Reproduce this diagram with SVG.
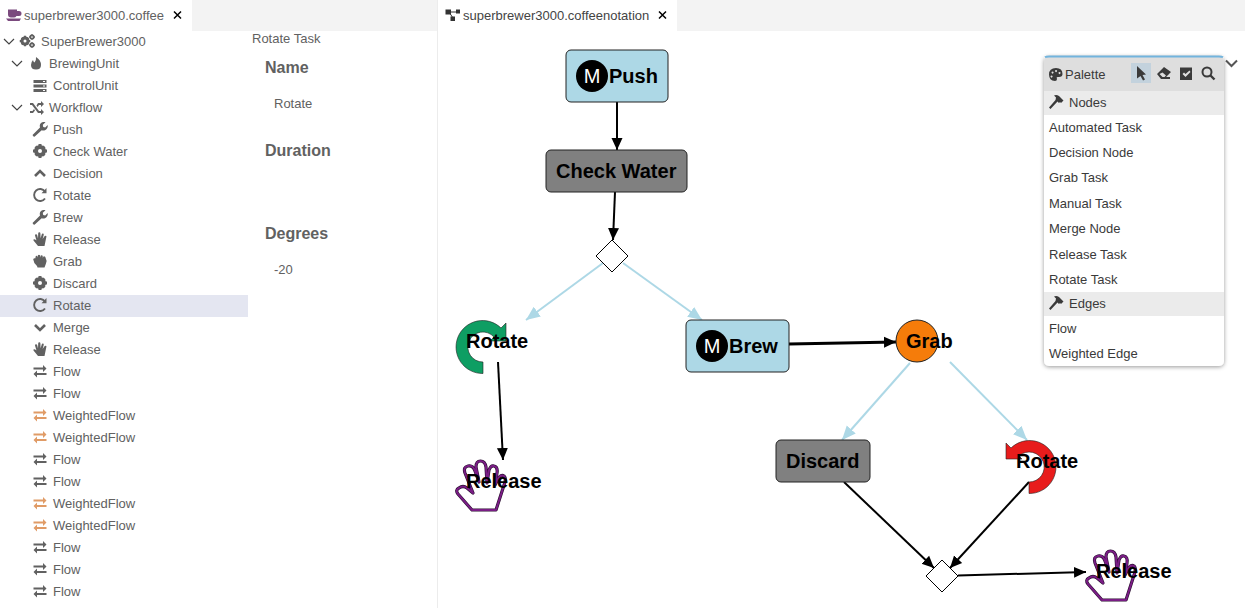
<svg xmlns="http://www.w3.org/2000/svg" xmlns:xlink="http://www.w3.org/1999/xlink" width="1245" height="608" viewBox="0 0 1245 608">
<style>
text{font-family:"Liberation Sans",Arial,sans-serif}
.t{font-size:13px;fill:#616161}
.h{font-size:16px;font-weight:bold;fill:#616161}
.p{font-size:13px;fill:#3a3a3a}
.n{font-size:20px;font-weight:bold;fill:#000}
.m{font-size:20px;fill:#fff;text-anchor:middle}
.box{stroke:#222;stroke-width:1}
.c{fill:none;stroke:#000;stroke-width:2;marker-end:url(#ak)}
.b{fill:none;stroke:#add8e6;stroke-width:2;marker-end:url(#ab)}
.i{fill:#616161}
.s{fill:none;stroke:#444;stroke-width:1.2}
.hand0{fill:#fff;stroke:#2a1030;stroke-width:3.2;stroke-linejoin:round}
.hand{fill:none;stroke:#7a1d85;stroke-width:2;stroke-linejoin:round}
.dia{fill:#fff;stroke:#000;stroke-width:1}
.pi{fill:#3a3a3a}
</style>
<defs>
<marker id="ak" markerUnits="userSpaceOnUse" markerWidth="13" markerHeight="13" refX="12" refY="6.500" orient="auto"><path d="M0 1L12 6.500L0 12Z" fill="#000"/></marker>
<marker id="ab" markerUnits="userSpaceOnUse" markerWidth="15" markerHeight="14" refX="14" refY="7" orient="auto"><path d="M0 1L14 7L0 13Z" fill="#add8e6"/></marker>
<filter id="sh" x="-10%" y="-10%" width="120%" height="120%"><feDropShadow dx="0" dy="1" stdDeviation="2" flood-color="#000" flood-opacity=".4"/></filter>
<path id="wrench" d="M-6.500 7.500L-7.500 6L0 -1.500C-.8 -4 .2 -6.500 3 -7C4 -7.200 5 -7 5.500 -6.700L2.800 -4.200L3.200 -2L5.200 -1.500L7.700 -4C8 -2 7.300 .5 5 1.200C3.800 1.600 2.600 1.500 1.700 1.200L-5.500 7.700Z"/>
<g id="gear"><circle r="4" fill="none" stroke="#616161" stroke-width="4"/><path d="M-1.500 -7H1.500V-4H-1.500ZM-1.500 4H1.500V7H-1.500ZM-7 -1.500H-4V1.500H-7ZM4 -1.500H7V1.500H4ZM-5.500 -3.500L-3.500 -5.500L-1.500 -3.500L-3.500 -1.500ZM3.500 -5.500L5.500 -3.500L3.500 -1.500L1.500 -3.500ZM-5.500 3.500L-3.500 5.500L-1.500 3.500L-3.500 1.500ZM3.500 5.500L5.500 3.500L3.500 1.500L1.500 3.500Z"/></g>
<path id="up" d="M-5 3L0 -2L5 3" fill="none" stroke="#616161" stroke-width="2.600"/>
<path id="down" d="M-5 -2L0 3L5 -2" fill="none" stroke="#616161" stroke-width="2.600"/>
<g id="rot"><path d="M5 -3.500A6 6 0 1 0 5 3.500" fill="none" stroke="#616161" stroke-width="1.900"/><path d="M6.500 -7V-1.800H1.500Z"/></g>
<path id="handi" d="M-2 7L-6.500 1.500Q-7 .5 -6 .2Q-5 0 -4 1L-3.500 1.500L-5 -3.500Q-5 -4.800 -4 -4.800Q-3 -4.800 -2.800 -3.800L-2 -.5L-1.800 -5.500Q-1.800 -6.700 -.7 -6.700Q.4 -6.700 .4 -5.500L.6 -.8L1.800 -4.800Q2.200 -5.800 3.100 -5.500Q4 -5.200 3.700 -4L2.600 0L4.500 -2.800Q5.300 -3.600 6 -3.200Q6.800 -2.600 6.300 -1.700L4.500 7Z"/>
<path id="fist" d="M-6.800 -1.800Q-6.300 -3 -5 -2.800L-4.600 -2.800L-4.400 -4.600Q-3.800 -5.400 -2.800 -5L-2.400 -3.500L-2.100 -5.800Q-1 -6.500 0 -5.800L.2 -3.500L.7 -5.600Q1.800 -6.100 2.700 -5.300L2.800 -3.200L3.500 -4.600Q4.600 -4.900 5.300 -4Q7.400 -.5 5.800 3L4.500 6.500H-2.500L-3 5Q-6.500 2 -6.800 -1.800Z"/>
<path id="flow" d="M-6.500 -3.500H3V-6L6.500 -2.500L3 1V-1.500H-6.500ZM6.500 2H-3V-.5L-6.500 3L-3 6.500V4H6.500Z"/>
<path id="wflow" fill="#e09b66" d="M-6.500 -3.500H3V-6L6.500 -2.500L3 1V-1.500H-6.500ZM6.500 2H-3V-.5L-6.500 3L-3 6.500V4H6.500Z"/>
<path id="hammer" d="M-7 5.500L-5.500 7L1.500 -.5L3 1L4 0L5 1L7.500 -1.500L3 -6Q.5 -7.500 -2 -6.500L0 -4.500L-.5 -2Z"/>
<path id="handp" d="M16 50L2 34Q-1 30 3 28Q7 25 11 28L17 33L9 13Q7 7 12 6Q17 5 19 11L23 22L20 7Q20 1 24.500 1Q29 1 30 7L31 23L33 10Q35 5 38 6Q42 7 41 13L39 25L42 19Q45 14 48 16Q50 18 49 22L40 50Z"/>
</defs>

<g id="background">
<rect width="1245" height="608" fill="#fff"/>
<rect y="0" width="1245" height="31" fill="#f3f3f3"/>
<rect x="0" y="0" width="192" height="31" fill="#fff"/>
<rect x="438" y="0" width="239" height="31" fill="#fff"/>
<rect x="437" y="0" width="1" height="608" fill="#ececec"/>
<rect x="0" y="295" width="248" height="22" fill="#e4e6f1"/>
</g>

<g id="tab-left">
<path d="M8 9.500H17V11H19Q21.500 11 21.500 13.500T19 16H16.500Q15.500 17.500 14 17.500H11Q8 17.500 8 14.500ZM6 18.500H21L19.500 21H8Z" fill="#7b4a7e"/>
<text x="24" y="20" class="t">superbrewer3000.coffee</text>
<path d="M174 11.500L181 18.500M181 11.500L174 18.500" stroke="#000" stroke-width="1.500"/>
</g>
<g id="tab-right">
<path d="M448 12H459M449 12L453 18" fill="none" stroke="#333" stroke-width="1"/>
<path d="M445.500 9.500H451V14.500H445.500ZM456 9.500H460V13.500H456ZM450.500 16.500H455V21H450.500Z" fill="#333"/>
<text x="463" y="20" class="t" style="fill:#444">superbrewer3000.coffeenotation</text>
<path d="M659 11.500L666 18.500M666 11.500L659 18.500" stroke="#000" stroke-width="1.500"/>
</g>

<g id="tree">
<path class="s" d="M4 39L9 44L14 39M12 61L17 66L22 61M12 105L17 110L22 105"/>
<g class="i">
<use xlink:href="#gear" transform="translate(25 41) scale(.75)"/>
<g transform="translate(32 37) scale(.42)"><use xlink:href="#gear"/></g>
<g transform="translate(32 45) scale(.42)"><use xlink:href="#gear"/></g>
<path d="M36 57Q41 60 41 65Q41 69.500 36 69.500Q31 69.500 31 65Q31 62 33 60Q33.500 62 34.500 62.500Q36.500 60 36 57Z"/>
<path fill-rule="evenodd" d="M33.500 80H46.500V83H33.500ZM43 81V82H45V81ZM33.500 84.500H46.500V87.500H33.500ZM43 85.500V86.500H45V85.500ZM33.500 89H46.500V92H33.500ZM43 90V91H45V90Z"/>
<path d="M30 103H33L39 111H41V109L44 112L41 115V113H38L32 105H30ZM30 113H33L35 110.500L34 109L32.500 111H30ZM41 103V101L44 104L41 107V105H39L37.500 107L36.500 105.500L38 103Z"/>
<use xlink:href="#wrench" x="40" y="129"/>
<use xlink:href="#gear" x="40" y="151"/>
<use xlink:href="#up" x="40" y="173"/>
<use xlink:href="#rot" x="40" y="195"/>
<use xlink:href="#wrench" x="40" y="217"/>
<use xlink:href="#handi" x="40" y="239"/>
<use xlink:href="#fist" x="40" y="261"/>
<use xlink:href="#gear" x="40" y="283"/>
<use xlink:href="#rot" x="40" y="305"/>
<use xlink:href="#down" x="40" y="327"/>
<use xlink:href="#handi" x="40" y="349"/>
<use xlink:href="#flow" x="40" y="371"/>
<use xlink:href="#flow" x="40" y="393"/>
<use xlink:href="#wflow" x="40" y="415"/>
<use xlink:href="#wflow" x="40" y="437"/>
<use xlink:href="#flow" x="40" y="459"/>
<use xlink:href="#flow" x="40" y="481"/>
<use xlink:href="#wflow" x="40" y="503"/>
<use xlink:href="#wflow" x="40" y="525"/>
<use xlink:href="#flow" x="40" y="547"/>
<use xlink:href="#flow" x="40" y="569"/>
<use xlink:href="#flow" x="40" y="591"/>
</g>
<text class="t" x="41" y="46">SuperBrewer3000</text>
<text class="t" x="49" y="68">BrewingUnit</text>
<text class="t" x="53" y="90">ControlUnit</text>
<text class="t" x="49" y="112">Workflow</text>
<text class="t" x="53" y="134">Push</text>
<text class="t" x="53" y="156">Check Water</text>
<text class="t" x="53" y="178">Decision</text>
<text class="t" x="53" y="200">Rotate</text>
<text class="t" x="53" y="222">Brew</text>
<text class="t" x="53" y="244">Release</text>
<text class="t" x="53" y="266">Grab</text>
<text class="t" x="53" y="288">Discard</text>
<text class="t" x="53" y="310">Rotate</text>
<text class="t" x="53" y="332">Merge</text>
<text class="t" x="53" y="354">Release</text>
<text class="t" x="53" y="376">Flow</text>
<text class="t" x="53" y="398">Flow</text>
<text class="t" x="53" y="420">WeightedFlow</text>
<text class="t" x="53" y="442">WeightedFlow</text>
<text class="t" x="53" y="464">Flow</text>
<text class="t" x="53" y="486">Flow</text>
<text class="t" x="53" y="508">WeightedFlow</text>
<text class="t" x="53" y="530">WeightedFlow</text>
<text class="t" x="53" y="552">Flow</text>
<text class="t" x="53" y="574">Flow</text>
<text class="t" x="53" y="596">Flow</text>
</g>

<g id="properties">
<text class="t" x="252" y="43">Rotate Task</text>
<text class="h" x="265" y="73">Name</text>
<text class="t" x="274" y="108">Rotate</text>
<text class="h" x="265" y="156">Duration</text>
<text class="h" x="265" y="239">Degrees</text>
<text class="t" x="274" y="274">-20</text>
</g>

<g id="connectors">
<path class="c" d="M617 102L617 150"/>
<path class="c" d="M615 192L613 240"/>
<path class="b" d="M603 263L526 320"/>
<path class="b" d="M623 263L702 320"/>
<path class="c" style="stroke-width:3" d="M789 344L896 342"/>
<path class="b" d="M910 363L842 440"/>
<path class="b" d="M950 362L1027 440"/>
<path class="c" d="M498 362L503 460"/>
<path class="c" d="M844 482L934 568"/>
<path class="c" d="M1029 482L950 568"/>
<path class="c" d="M958 575.500L1086 572"/>
</g>

<g id="node-push">
<rect class="box" x="566" y="50" width="102" height="52" rx="5" fill="#add8e6"/>
<circle cx="592" cy="76" r="16" fill="#000"/><text class="m" x="592" y="83">M</text>
<text class="n" x="609" y="83">Push</text>
</g>
<g id="node-check-water">
<rect class="box" x="546" y="150" width="141" height="42" rx="5" fill="#808080"/>
<text class="n" x="556" y="178">Check Water</text>
</g>
<g id="node-decision"><path class="dia" d="M612 240L628 256L612 272L596 256Z"/></g>
<g id="node-rotate-1">
<path d="M483 373.500A26.500 26.500 0 1 1 501 328L506 323V341H490L494 337A15 15 0 1 0 483 362Z" fill="#0e9e63" stroke="#222" stroke-width=".6"/>
<text class="n" x="466" y="348">Rotate</text>
</g>
<g id="node-brew">
<rect class="box" x="686" y="320" width="103" height="52" rx="5" fill="#add8e6"/>
<circle cx="712" cy="346" r="16" fill="#000"/><text class="m" x="712" y="353">M</text>
<text class="n" x="729" y="353">Brew</text>
</g>
<g id="node-grab">
<circle class="box" cx="917" cy="341" r="21" fill="#f57c0a"/>
<text class="n" x="906" y="348">Grab</text>
</g>
<g id="node-release-1" transform="translate(456 460)">
<use xlink:href="#handp" class="hand0"/><use xlink:href="#handp" class="hand"/>
<text class="n" x="10" y="28">Release</text>
</g>
<g id="node-discard">
<rect class="box" x="776" y="440" width="94" height="42" rx="5" fill="#808080"/>
<text class="n" x="786" y="468">Discard</text>
</g>
<g id="node-rotate-2">
<path d="M1029 493.500A26.500 26.500 0 1 0 1011 448L1006 443V459H1022L1019 456A15 15 0 1 1 1029 482Z" fill="#e81c1c" stroke="#222" stroke-width=".6"/>
<text class="n" x="1016" y="468">Rotate</text>
</g>
<g id="node-merge"><path class="dia" d="M942 560L958 576L942 592L926 576Z"/></g>
<g id="node-release-2" transform="translate(1086 550)">
<use xlink:href="#handp" class="hand0"/><use xlink:href="#handp" class="hand"/>
<text class="n" x="10" y="28">Release</text>
</g>

<g id="palette">
<path d="M1226 60.500L1231.500 66L1237 60.500" fill="none" stroke="#555" stroke-width="2"/>
<rect x="1044" y="56" width="180" height="310" rx="5" fill="#fff" filter="url(#sh)"/>
<path d="M1044 91V61Q1044 56 1049 56H1219Q1224 56 1224 61V91Z" fill="#dedede"/>
<path d="M1045 57.200Q1046 56.500 1049 56.500H1219Q1222 56.500 1223 57.200" fill="none" stroke="#72b4dd" stroke-width="2"/>
<rect x="1044" y="91" width="180" height="24" fill="#ebebeb"/>
<rect x="1044" y="292" width="180" height="24" fill="#ebebeb"/>
<rect x="1131" y="63" width="20" height="20" fill="#c3d2dd"/>
<path class="pi" d="M1137 66L1146 74.500L1142.500 75L1145 79.500L1143 80.500L1140.500 76L1137 78.500Z"/>
<path class="pi" fill-rule="evenodd" d="M1157 74L1164 67L1171 72L1166 77H1170V79H1161ZM1159.500 74L1162.500 77H1164.500L1166 75.500L1162.500 72.500Z"/>
<path class="pi" fill-rule="evenodd" d="M1180 67.500H1192V80H1180ZM1182.500 74L1184 72.500L1185.500 74L1189.500 70.500L1190.500 72L1185.500 77Z"/>
<circle cx="1207" cy="72" r="4.500" fill="none" stroke="#3a3a3a" stroke-width="2"/><path d="M1210 75L1214.500 79.500" stroke="#3a3a3a" stroke-width="2.400"/>
<path class="pi" fill-rule="evenodd" d="M1056 68Q1062.500 68 1062.500 74Q1062.500 77 1059 77H1057.500Q1056 77 1057 79Q1057 81 1055 81Q1049 80.500 1049 74.500Q1049 68 1056 68ZM1052.500 71.500A1 1 0 1 0 1052.600 71.500ZM1056 70A1 1 0 1 0 1056.100 70ZM1059.500 72A1 1 0 1 0 1059.600 72ZM1051.500 75.500A1 1 0 1 0 1051.600 75.500Z"/>
<use xlink:href="#hammer" x="1056" y="102" class="pi"/>
<use xlink:href="#hammer" x="1056" y="303" class="pi"/>
<text class="p" x="1065" y="79">Palette</text>
<text class="p" x="1069" y="107">Nodes</text>
<text class="p" x="1049" y="132">Automated Task</text>
<text class="p" x="1049" y="157">Decision Node</text>
<text class="p" x="1049" y="182">Grab Task</text>
<text class="p" x="1049" y="208">Manual Task</text>
<text class="p" x="1049" y="233">Merge Node</text>
<text class="p" x="1049" y="259">Release Task</text>
<text class="p" x="1049" y="284">Rotate Task</text>
<text class="p" x="1069" y="308">Edges</text>
<text class="p" x="1049" y="333">Flow</text>
<text class="p" x="1049" y="358">Weighted Edge</text>
</g>
</svg>
